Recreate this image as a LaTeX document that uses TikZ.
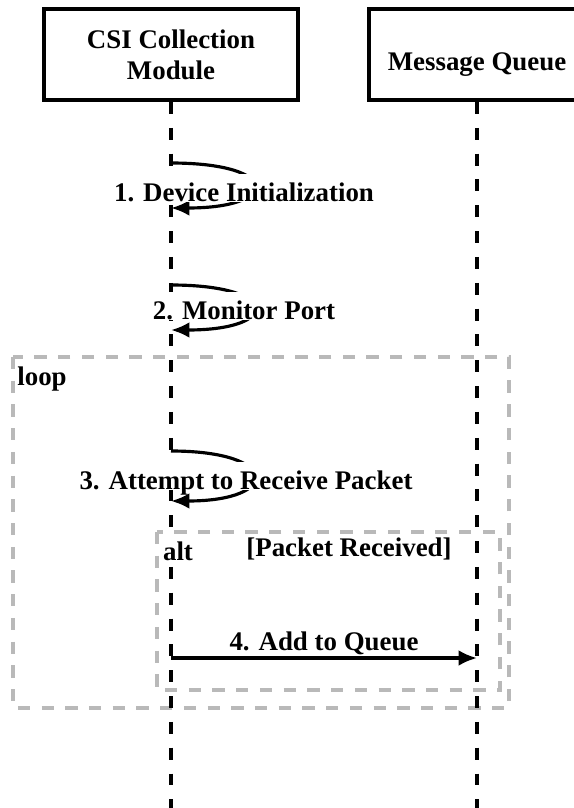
\documentclass[tikz,border=0pt]{standalone}
\usepackage{fontspec}
\setmainfont{Liberation Serif}
\usetikzlibrary{arrows.meta}

\begin{document}
\begin{tikzpicture}[x = 0.02cm, y = -0.02cm,
        font = \fontsize{15.3}{17.6}\selectfont\bfseries,
        actor/.style = {draw, line width = 2.3pt, align = center, minimum height = 1.82cm},
        lifeline/.style = {black, line width = 2.3pt, dash pattern = on 6.8pt off 7.9pt},
        frame/.style = {draw = gray!55, line width = 2pt, dash pattern = on 7pt off 6.5pt},
        msg/.style = {black, line width = 1.8pt, -{Latex[length = 10.5pt, width = 9pt]}},
        msglabel/.style = {fill = white, anchor = base, text height = 15pt, text depth = 0pt, inner xsep = 1pt, inner ysep = 0.5pt}]
                \useasboundingbox (0,0) rectangle (574,808);
                \draw[frame] (13,357) rectangle (509,708);
                \draw[frame] (157,532) rectangle (500,690);
                \node[actor, minimum width = 5.08cm] (csi) at (171,54.5) {CSI Collection\\Module};
                \node[actor, minimum width = 4.32cm, text height = 22pt] (mq) at (477,54.5) {Message Queue};
                \coordinate (bottom) at (0,808);
                \draw[lifeline] (csi.south) -- (csi.south |- bottom);
                \draw[lifeline] (mq.south) -- (mq.south |- bottom);
                \coordinate (init0) at (171,163);
                \coordinate (init1) at (171,208);
                \coordinate (port0) at (171,285);
                \coordinate (port1) at (171,330);
                \coordinate (recv0) at (171,451);
                \coordinate (recv1) at (171,501);
                \coordinate (add0) at (171,658);
                \coordinate (add1) at (477,658);
                \draw[msg] (init0) .. controls +(110,0) and +(110,0) .. (init1);
                \draw[msg] (port0) .. controls +(110,0) and +(110,0) .. (port1);
                \draw[msg] (recv0) .. controls +(110,0) and +(110,0) .. (recv1);
                \draw[msg] (add0) -- (add1) node[midway, above, inner sep = 1pt] (addlbl) {4. Add to Queue};
                \node[msglabel] (initlbl) at (244,201) {1. Device Initialization};
                \node[msglabel] (portlbl) at (244,319) {2. Monitor Port};
                \node[msglabel] (recvlbl) at (246,489) {3. Attempt to Receive Packet};
                \node[inner sep = 1pt] (looplbl) at (42,379) {loop};
                \node[fill = white, inner sep = 1pt] (altlbl) at (178,551) {alt};
                \node[inner sep = 1pt] (cond) at (349,549) {[Packet Received]};
\end{tikzpicture}
\end{document}
